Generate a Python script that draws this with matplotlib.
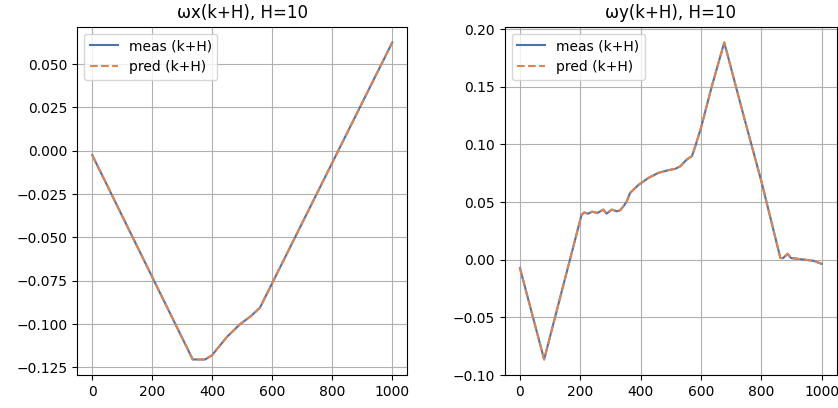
import numpy as np
import matplotlib
matplotlib.use("Agg")
import matplotlib.pyplot as plt

# Key points (sample index, value)
wx_k = [0, 335, 376, 399, 420, 450, 493, 530, 559, 1000]
wx_v = [-0.0025, -0.1204, -0.1204, -0.118, -0.1135, -0.1072, -0.1, -0.0952, -0.0905, 0.0625]

wy_k = [0, 80, 204, 213, 226, 239, 257, 276, 287, 304, 321, 332, 343, 354, 365, 393, 426, 459, 492, 514,
        531, 553, 570, 581, 600, 636, 677, 740, 800, 863, 872, 887, 898, 929, 973, 1000]
wy_v = [-0.0072, -0.0864, 0.039, 0.041, 0.040, 0.0417, 0.0406, 0.0435, 0.040, 0.0435, 0.042, 0.0429, 0.0464,
        0.0507, 0.058, 0.065, 0.071, 0.0754, 0.0777, 0.0788, 0.081, 0.087, 0.0899, 0.0985, 0.1145, 0.1507,
        0.1884, 0.126, 0.068, 0.0015, 0.0015, 0.0052, 0.0015, 0.0006, -0.0009, -0.0035]

titles = ["ωx(k+H), H=10", "ωy(k+H), H=10"]
labels = ["meas (k+H)", "pred (k+H)"]
blue = "#4c72b0"
orange = "#dd8452"

fig = plt.figure(figsize=(8.38, 4.08), dpi=100)
ax1 = fig.add_axes([0.0922, 0.0801, 0.3938, 0.8547])
ax2 = fig.add_axes([0.6025, 0.0801, 0.3961, 0.8547])

for ax, k, v, t in [(ax1, wx_k, wx_v, titles[0]), (ax2, wy_k, wy_v, titles[1])]:
    ax.plot(k, v, color=blue, lw=1.5, label=labels[0])
    ax.plot(k, v, color=orange, lw=1.5, ls="--", label=labels[1])
    ax.set_title(t, fontsize=12)
    ax.grid(True)
    ax.set_xticks([0, 200, 400, 600, 800, 1000])
    ax.legend(loc="upper left")

ax1.set_yticks([-0.125, -0.100, -0.075, -0.050, -0.025, 0.000, 0.025, 0.050])
ax1.set_yticklabels(["−0.125", "−0.100", "−0.075", "−0.050", "−0.025", "0.000", "0.025", "0.050"])
ax2.set_yticks([-0.10, -0.05, 0.00, 0.05, 0.10, 0.15, 0.20])
ax2.set_yticklabels(["−0.10", "−0.05", "0.00", "0.05", "0.10", "0.15", "0.20"])

fig.savefig("out.png", dpi=100)
